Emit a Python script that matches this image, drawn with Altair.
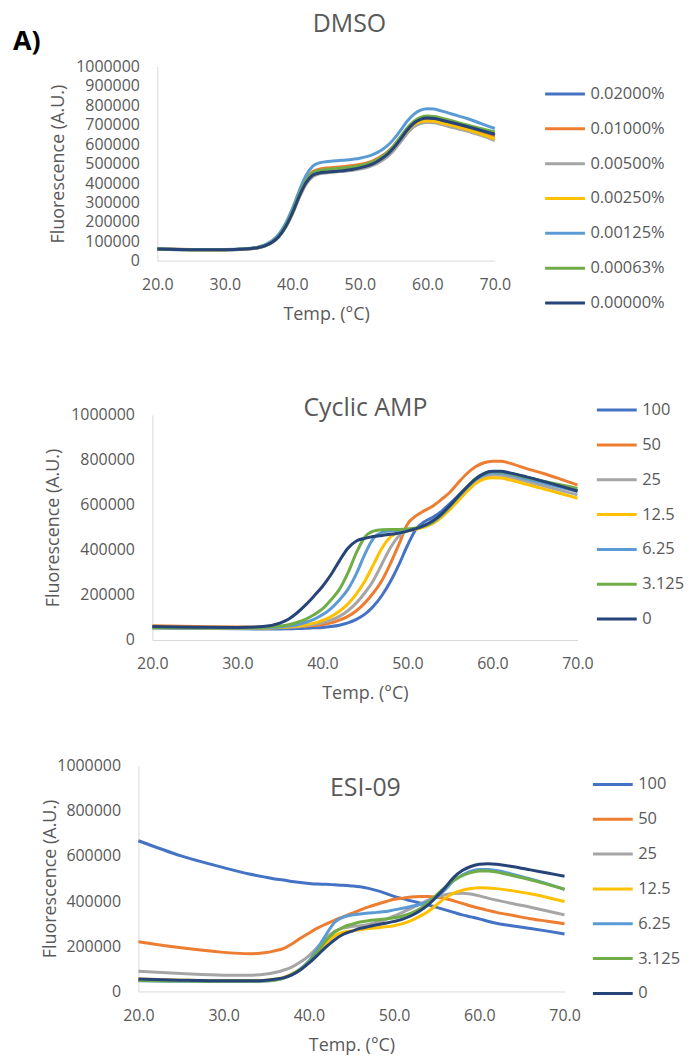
import altair as alt
import pandas as pd

# Temperature grid (°C)
T = [20, 25, 30, 33, 35, 36, 37, 38, 39, 40, 41, 42, 43, 44, 45, 46, 47, 48, 49, 50,
     51, 52, 53, 54, 55, 56, 57, 58, 59, 60, 61, 62, 64, 66, 68, 70]

COLORS = ["#4472C4", "#ED7D31", "#A5A5A5", "#FFC000", "#5B9BD5", "#70AD47", "#264478"]

# ---------------- DMSO (values in thousands) ----------------
DMSO_LABELS = ["0.02000%", "0.01000%", "0.00500%", "0.00250%", "0.00125%", "0.00063%", "0.00000%"]
DMSO_02000 = [59, 56, 56, 59, 67, 77, 94, 123, 172, 242, 326, 397, 438, 450, 455, 458, 461, 465, 470, 476,
              485, 497, 516, 541, 576, 621, 668, 704, 724, 731, 729, 721, 703, 684, 665, 645]
DMSO_01000 = [61, 58, 57, 60, 69, 80, 98, 130, 182, 255, 342, 415, 458, 472, 477, 480, 483, 486, 490, 496,
              504, 516, 534, 558, 592, 636, 680, 712, 730, 736, 734, 726, 707, 688, 666, 643]
DMSO_00500 = [60, 57, 57, 60, 68, 78, 94, 123, 172, 240, 322, 392, 432, 447, 452, 456, 459, 462, 466, 472,
              480, 492, 510, 534, 567, 610, 655, 690, 707, 712, 710, 702, 684, 666, 646, 618]
DMSO_00250 = [60, 57, 57, 60, 68, 78, 95, 125, 175, 245, 330, 402, 445, 460, 466, 469, 472, 475, 479, 485,
              493, 505, 523, 548, 582, 626, 670, 702, 716, 720, 718, 710, 693, 674, 652, 627]
DMSO_00125 = [62, 58, 58, 61, 71, 83, 103, 137, 192, 268, 358, 438, 486, 504, 510, 513, 516, 519, 523, 528,
              536, 548, 565, 590, 625, 670, 718, 754, 775, 783, 781, 772, 752, 731, 706, 681]
DMSO_00063 = [60, 57, 57, 60, 69, 79, 97, 128, 180, 252, 338, 410, 452, 465, 470, 473, 476, 479, 483, 489,
              497, 510, 529, 554, 590, 636, 683, 718, 738, 745, 743, 735, 717, 698, 680, 663]
DMSO_00000 = [60, 57, 57, 60, 68, 78, 95, 125, 175, 245, 330, 400, 440, 452, 456, 459, 462, 466, 471, 478,
              487, 500, 520, 545, 580, 625, 672, 708, 728, 735, 733, 725, 708, 690, 671, 651]

# ---------------- Cyclic AMP ----------------
CONC_LABELS = ["100", "50", "25", "12.5", "6.25", "3.125", "0"]
CAMP_100 = [54, 52, 50, 49, 49, 50, 51, 52, 54, 56, 60, 66, 76, 92, 115, 150, 198, 260, 335, 420,
            492, 526, 546, 572, 606, 642, 680, 715, 738, 748, 748, 741, 723, 704, 684, 665]
CAMP_50 = [63, 60, 58, 57, 57, 58, 59, 61, 64, 68, 76, 88, 105, 130, 165, 210, 265, 340, 425, 515,
           552, 575, 596, 625, 657, 700, 740, 770, 788, 795, 795, 786, 762, 740, 715, 689]
CAMP_25 = [56, 54, 53, 53, 55, 57, 59, 63, 69, 76, 88, 105, 130, 165, 210, 265, 338, 410, 462, 486,
           496, 506, 523, 551, 587, 627, 667, 702, 725, 733, 732, 724, 705, 685, 665, 645]
CAMP_12_5 = [55, 53, 52, 53, 56, 58, 62, 67, 75, 87, 104, 128, 160, 205, 262, 335, 408, 458, 478, 485,
             492, 502, 518, 545, 580, 620, 660, 695, 715, 721, 720, 712, 692, 672, 651, 630]
CAMP_6_25 = [54, 53, 53, 54, 58, 62, 68, 78, 92, 112, 140, 178, 225, 295, 382, 452, 478, 485, 487, 490,
             496, 507, 525, 555, 594, 636, 676, 712, 734, 743, 742, 735, 716, 698, 679, 660]
CAMP_3_125 = [55, 54, 54, 56, 62, 68, 78, 92, 112, 138, 178, 225, 298, 388, 458, 484, 490, 491, 491, 493,
              498, 508, 526, 556, 596, 638, 680, 717, 740, 749, 748, 741, 723, 706, 690, 674]
CAMP_0 = [60, 57, 56, 60, 75, 92, 120, 155, 195, 238, 290, 352, 408, 440, 452, 460, 465, 470, 475, 484,
          495, 510, 530, 560, 598, 640, 680, 715, 740, 750, 750, 743, 725, 705, 684, 662]

# ---------------- ESI-09 ----------------
ESI_100 = [667, 600, 548, 520, 505, 498, 493, 487, 482, 478, 475, 474, 472, 470, 467, 463, 456, 446, 434, 421,
           411, 401, 392, 383, 372, 361, 350, 339, 330, 321, 311, 302, 290, 279, 267, 254]
ESI_50 = [220, 193, 173, 167, 172, 180, 190, 210, 235, 258, 280, 298, 315, 330, 345, 360, 374, 386, 397, 408,
          413, 418, 420, 420, 417, 411, 401, 390, 378, 368, 359, 350, 336, 322, 311, 300]
ESI_25 = [89, 79, 72, 72, 77, 84, 94, 108, 130, 158, 195, 235, 265, 280, 287, 291, 297, 306, 318, 334,
          350, 368, 386, 404, 418, 428, 433, 435, 431, 423, 413, 404, 388, 373, 356, 339]
ESI_12_5 = [55, 50, 47, 47, 50, 54, 62, 78, 100, 130, 168, 212, 245, 262, 268, 273, 278, 282, 286, 291,
            300, 314, 332, 354, 384, 413, 435, 448, 456, 459, 458, 455, 445, 432, 416, 398]
ESI_6_25 = [47, 45, 44, 44, 46, 50, 58, 75, 100, 135, 190, 250, 305, 328, 338, 343, 347, 350, 354, 361,
            368, 376, 385, 398, 418, 450, 490, 515, 532, 540, 540, 535, 518, 498, 476, 452]
ESI_3_125 = [49, 46, 45, 45, 47, 51, 59, 74, 98, 130, 175, 225, 262, 284, 297, 307, 313, 317, 321, 326,
             334, 347, 365, 393, 428, 462, 492, 512, 526, 533, 533, 529, 512, 494, 474, 452]
ESI_0 = [55, 50, 47, 47, 50, 54, 60, 73, 95, 125, 160, 196, 228, 252, 266, 279, 287, 295, 302, 310,
         320, 335, 356, 383, 420, 460, 505, 535, 553, 563, 565, 563, 552, 538, 524, 510]

FONT = "Open Sans"
GREY_TEXT = "#595959"


def long_df(labels, series):
    rows = []
    for lab, vals in zip(labels, series):
        for t, v in zip(T, vals):
            rows.append({"t": t, "v": v * 1000, "s": lab})
    return pd.DataFrame(rows)


def text_layer(txt, x, y, size, weight="normal", color=GREY_TEXT, align="center"):
    return alt.Chart(pd.DataFrame({"a": [txt]})).mark_text(
        font=FONT, fontSize=size, fontWeight=weight, color=color, align=align, baseline="middle"
    ).encode(text="a:N", x=alt.value(x), y=alt.value(y))


def panel(labels, series, left, plot_w, height, ystep, title, tx, ty, lx, ly, ytitle_pad,
          xlab_pad=16, xtitle_pad=13, extra=None):
    df = long_df(labels, series)
    xaxis = alt.Axis(values=[20, 30, 40, 50, 60, 70], format=".1f", title="Temp. (°C)",
                     labelPadding=xlab_pad, titlePadding=xtitle_pad)
    yaxis_kw = dict(values=list(range(0, 1000001, ystep)), format="d",
                    title="Fluorescence (A.U.)", labelPadding=18, titlePadding=ytitle_pad)
    if left:
        yaxis_kw["offset"] = -left
    lines = alt.Chart(df).mark_line(strokeWidth=3, interpolate="monotone").encode(
        x=alt.X("t:Q", scale=alt.Scale(domain=[20, 70], nice=False, zero=False,
                                       range=[left, left + plot_w]),
                axis=xaxis),
        y=alt.Y("v:Q", scale=alt.Scale(domain=[0, 1000000], nice=False), axis=alt.Axis(**yaxis_kw)),
        color=alt.Color("s:N", scale=alt.Scale(domain=labels, range=COLORS), sort=labels,
                        legend=alt.Legend(title=None, orient="none", legendX=lx, legendY=ly,
                                          symbolType="stroke", symbolSize=1600, symbolStrokeWidth=3,
                                          clipHeight=33, rowPadding=2, padding=0,
                                          labelFont=FONT, labelFontSize=16.5, labelColor=GREY_TEXT,
                                          labelOffset=4)),
    )
    layers = [lines, text_layer(title, tx, ty, 25)]
    if extra is not None:
        layers.append(extra)
    return alt.layer(*layers).properties(width=left + plot_w, height=height)


def spacer(h):
    return alt.Chart(pd.DataFrame({"a": [0]})).mark_point(opacity=0).encode(
        x=alt.value(0), y=alt.value(0)).properties(width=1, height=h)


# positions are relative to a common column origin (the ESI-09 plot's left edge)
p1 = panel(DMSO_LABELS,
           [DMSO_02000, DMSO_01000, DMSO_00500, DMSO_00250, DMSO_00125, DMSO_00063, DMSO_00000],
           19, 339, 195, 100000, "DMSO", 212, -43, 407, 11, 8,
           extra=text_layer("A)", -126, -25, 27, weight="bold", color="#000000", align="left"))
p2 = panel(CONC_LABELS,
           [CAMP_100, CAMP_50, CAMP_25, CAMP_12_5, CAMP_6_25, CAMP_3_125, CAMP_0],
           14, 427, 226, 200000, "Cyclic AMP", 228, -7, 459, -21.5, 8)
p3 = panel(CONC_LABELS,
           [ESI_100, ESI_50, ESI_25, ESI_12_5, ESI_6_25, ESI_3_125, ESI_0],
           0, 428, 227, 200000, "ESI-09", 228, 23, 455, 2.5, -3)

chart = alt.vconcat(p1, spacer(155), p2, spacer(126), p3, spacing=0, bounds="flush").resolve_scale(
    x="independent", y="independent", color="independent"
).properties(
    padding={"left": 5, "top": 1.5, "right": 0, "bottom": 0}
).configure_view(strokeWidth=0).configure_axis(
    labelFont=FONT, labelFontSize=16, labelColor=GREY_TEXT,
    titleFont=FONT, titleFontSize=18, titleFontWeight="normal", titleColor=GREY_TEXT,
    domainColor="#D9D9D9", domainWidth=1, ticks=False, tickSize=0, grid=False,
    labelOverlap=False, labelFlush=False
)

chart.save("out.html", embed_options={"renderer": "svg", "actions": False})
